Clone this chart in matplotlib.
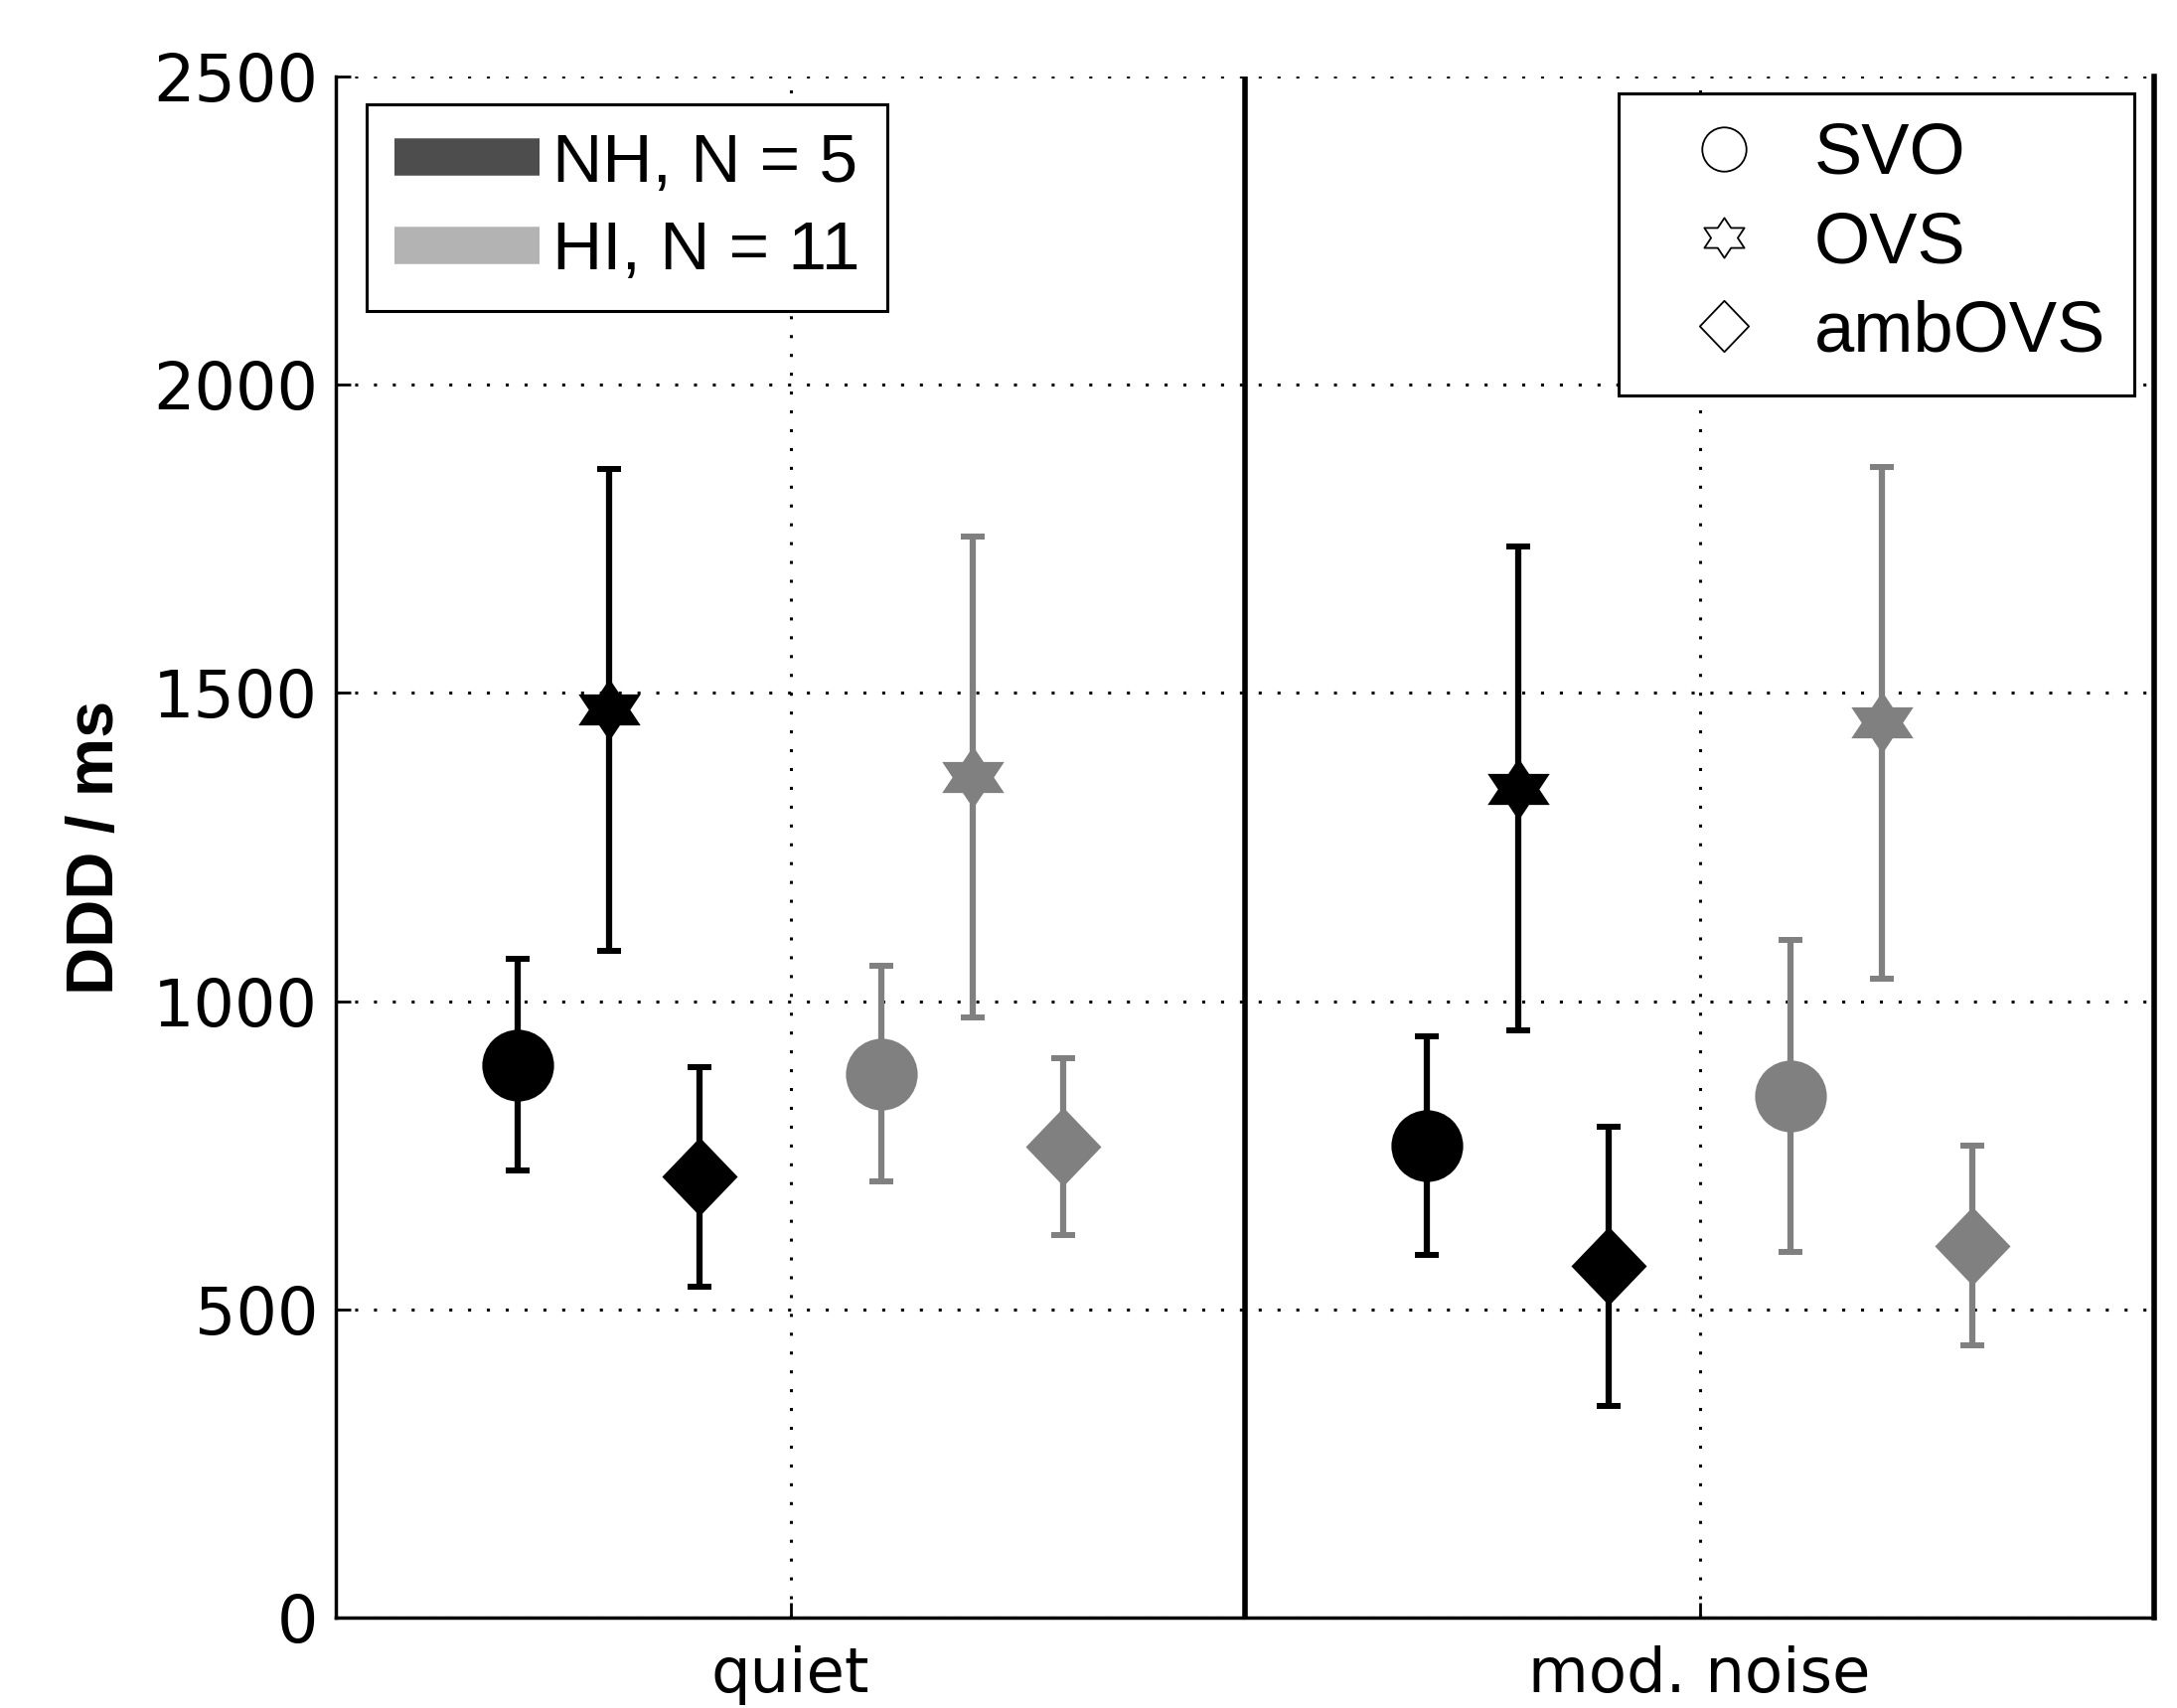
import matplotlib.pyplot as plt
import numpy as np
from matplotlib.path import Path
from matplotlib.lines import Line2D

# data set (DDD in ms), rows: SVO, OVS, ambOVS ; columns: quiet, mod. noise
conditions = ['quiet', 'mod. noise']
sentence_types = ['SVO', 'OVS', 'ambOVS']
group_labels = ['NH, N = 5', 'HI, N = 11']

nh_mean = [[897, 766], [1473, 1345], [715, 570]]
nh_err = [[172, 177], [391, 393], [178, 226]]
hi_mean = [[882, 847], [1364, 1452], [764, 603]]
hi_err = [[175, 253], [390, 415], [143, 162]]

yticks = [0, 500, 1000, 1500, 2000, 2500]


def hexagram():
    ang = np.deg2rad(np.arange(90, 450, 30))
    r = np.where(np.arange(12) % 2 == 0, 1.0, 1 / np.sqrt(3))
    verts = np.c_[r * np.cos(ang) / np.cos(np.pi / 6), r * np.sin(ang)]
    verts = np.vstack([verts, verts[0]])
    codes = [Path.MOVETO] + [Path.LINETO] * 11 + [Path.CLOSEPOLY]
    return Path(verts, codes)


diamond = Path([(0, 1), (0.96, 0), (0, -1), (-0.96, 0), (0, 1)],
               [Path.MOVETO, Path.LINETO, Path.LINETO, Path.LINETO, Path.CLOSEPOLY])

markers = ['o', hexagram(), diamond]
msizes = [52, 45, 57]
legend_msizes = [32, 29, 37]

fig = plt.figure(figsize=(21.91, 17.19), dpi=100)
ax = fig.add_axes([0.1543, 0.0529, 0.8352, 0.9023])

xpos = np.arange(1, len(conditions) + 1)
groups = [
    (nh_mean, nh_err, '#000000', [-0.3, -0.2, -0.1]),
    (hi_mean, hi_err, '#808080', [0.1, 0.2, 0.3]),
]
for means, errs, color, offs in groups:
    for s in range(len(sentence_types)):
        x = xpos + offs[s]
        ax.errorbar(x, means[s], yerr=errs[s], fmt='none', ecolor=color,
                    elinewidth=4.5, capsize=8.3, capthick=4.3, zorder=4)
        ax.plot(x, means[s], linestyle='none', marker=markers[s],
                markersize=msizes[s], color=color, markeredgewidth=0, zorder=5)

ax.axvline(1.5, color='k', lw=4, zorder=3)

ax.set_xlim(0.5, 2.5)
ax.set_ylim(0, 2500)
ax.set_xticks(xpos)
ax.set_xticklabels(conditions, fontfamily='DejaVu Sans', fontsize=45)
ax.set_yticks(yticks)
ax.set_yticklabels([str(v) for v in yticks], fontfamily='DejaVu Sans', fontsize=47)
ax.tick_params(axis='y', direction='in', length=11, width=2, pad=13)
ax.tick_params(axis='x', direction='in', length=11, width=2, pad=20)

ax.grid(True, color='k', linestyle=(0, (1, 5.2)), linewidth=2.2)
ax.set_axisbelow(True)

ax.spines['top'].set_visible(False)
ax.spines['left'].set_linewidth(2.5)
ax.spines['bottom'].set_linewidth(2.5)
ax.spines['right'].set_linewidth(4)

ax.set_ylabel('DDD / ms', fontfamily='Liberation Sans', fontweight='bold', fontsize=48)
ax.yaxis.set_label_coords(-0.115, 0.5)

# legend for groups
group_handles = [Line2D([], [], color='#4d4d4d', lw=27, solid_capstyle='butt'),
                 Line2D([], [], color='#b3b3b3', lw=27, solid_capstyle='butt')]
leg1 = ax.legend(group_handles, group_labels, loc='upper left',
                 bbox_to_anchor=(0.0169, 0.982), borderaxespad=0,
                 prop={'family': 'Liberation Sans', 'size': 50},
                 handlelength=2.11, handletextpad=0.18, labelspacing=0.35,
                 borderpad=0.4, fancybox=False, framealpha=1, edgecolor='k')
leg1.get_frame().set_linewidth(2.2)
ax.add_artist(leg1)

# legend for sentence types
type_handles = [Line2D([], [], linestyle='none', marker=markers[i],
                       markersize=legend_msizes[i], markerfacecolor='none',
                       markeredgecolor='k', markeredgewidth=1.3)
                for i in range(len(sentence_types))]
leg2 = ax.legend(type_handles, sentence_types, loc='upper left',
                 bbox_to_anchor=(0.7055, 0.989), borderaxespad=0,
                 prop={'family': 'Liberation Sans', 'size': 52},
                 handlelength=2.13, handletextpad=0.19, labelspacing=0.31,
                 borderpad=0.4, fancybox=False, framealpha=1, edgecolor='k')
leg2.get_frame().set_linewidth(2.2)

plt.savefig('out.png', dpi=100)
